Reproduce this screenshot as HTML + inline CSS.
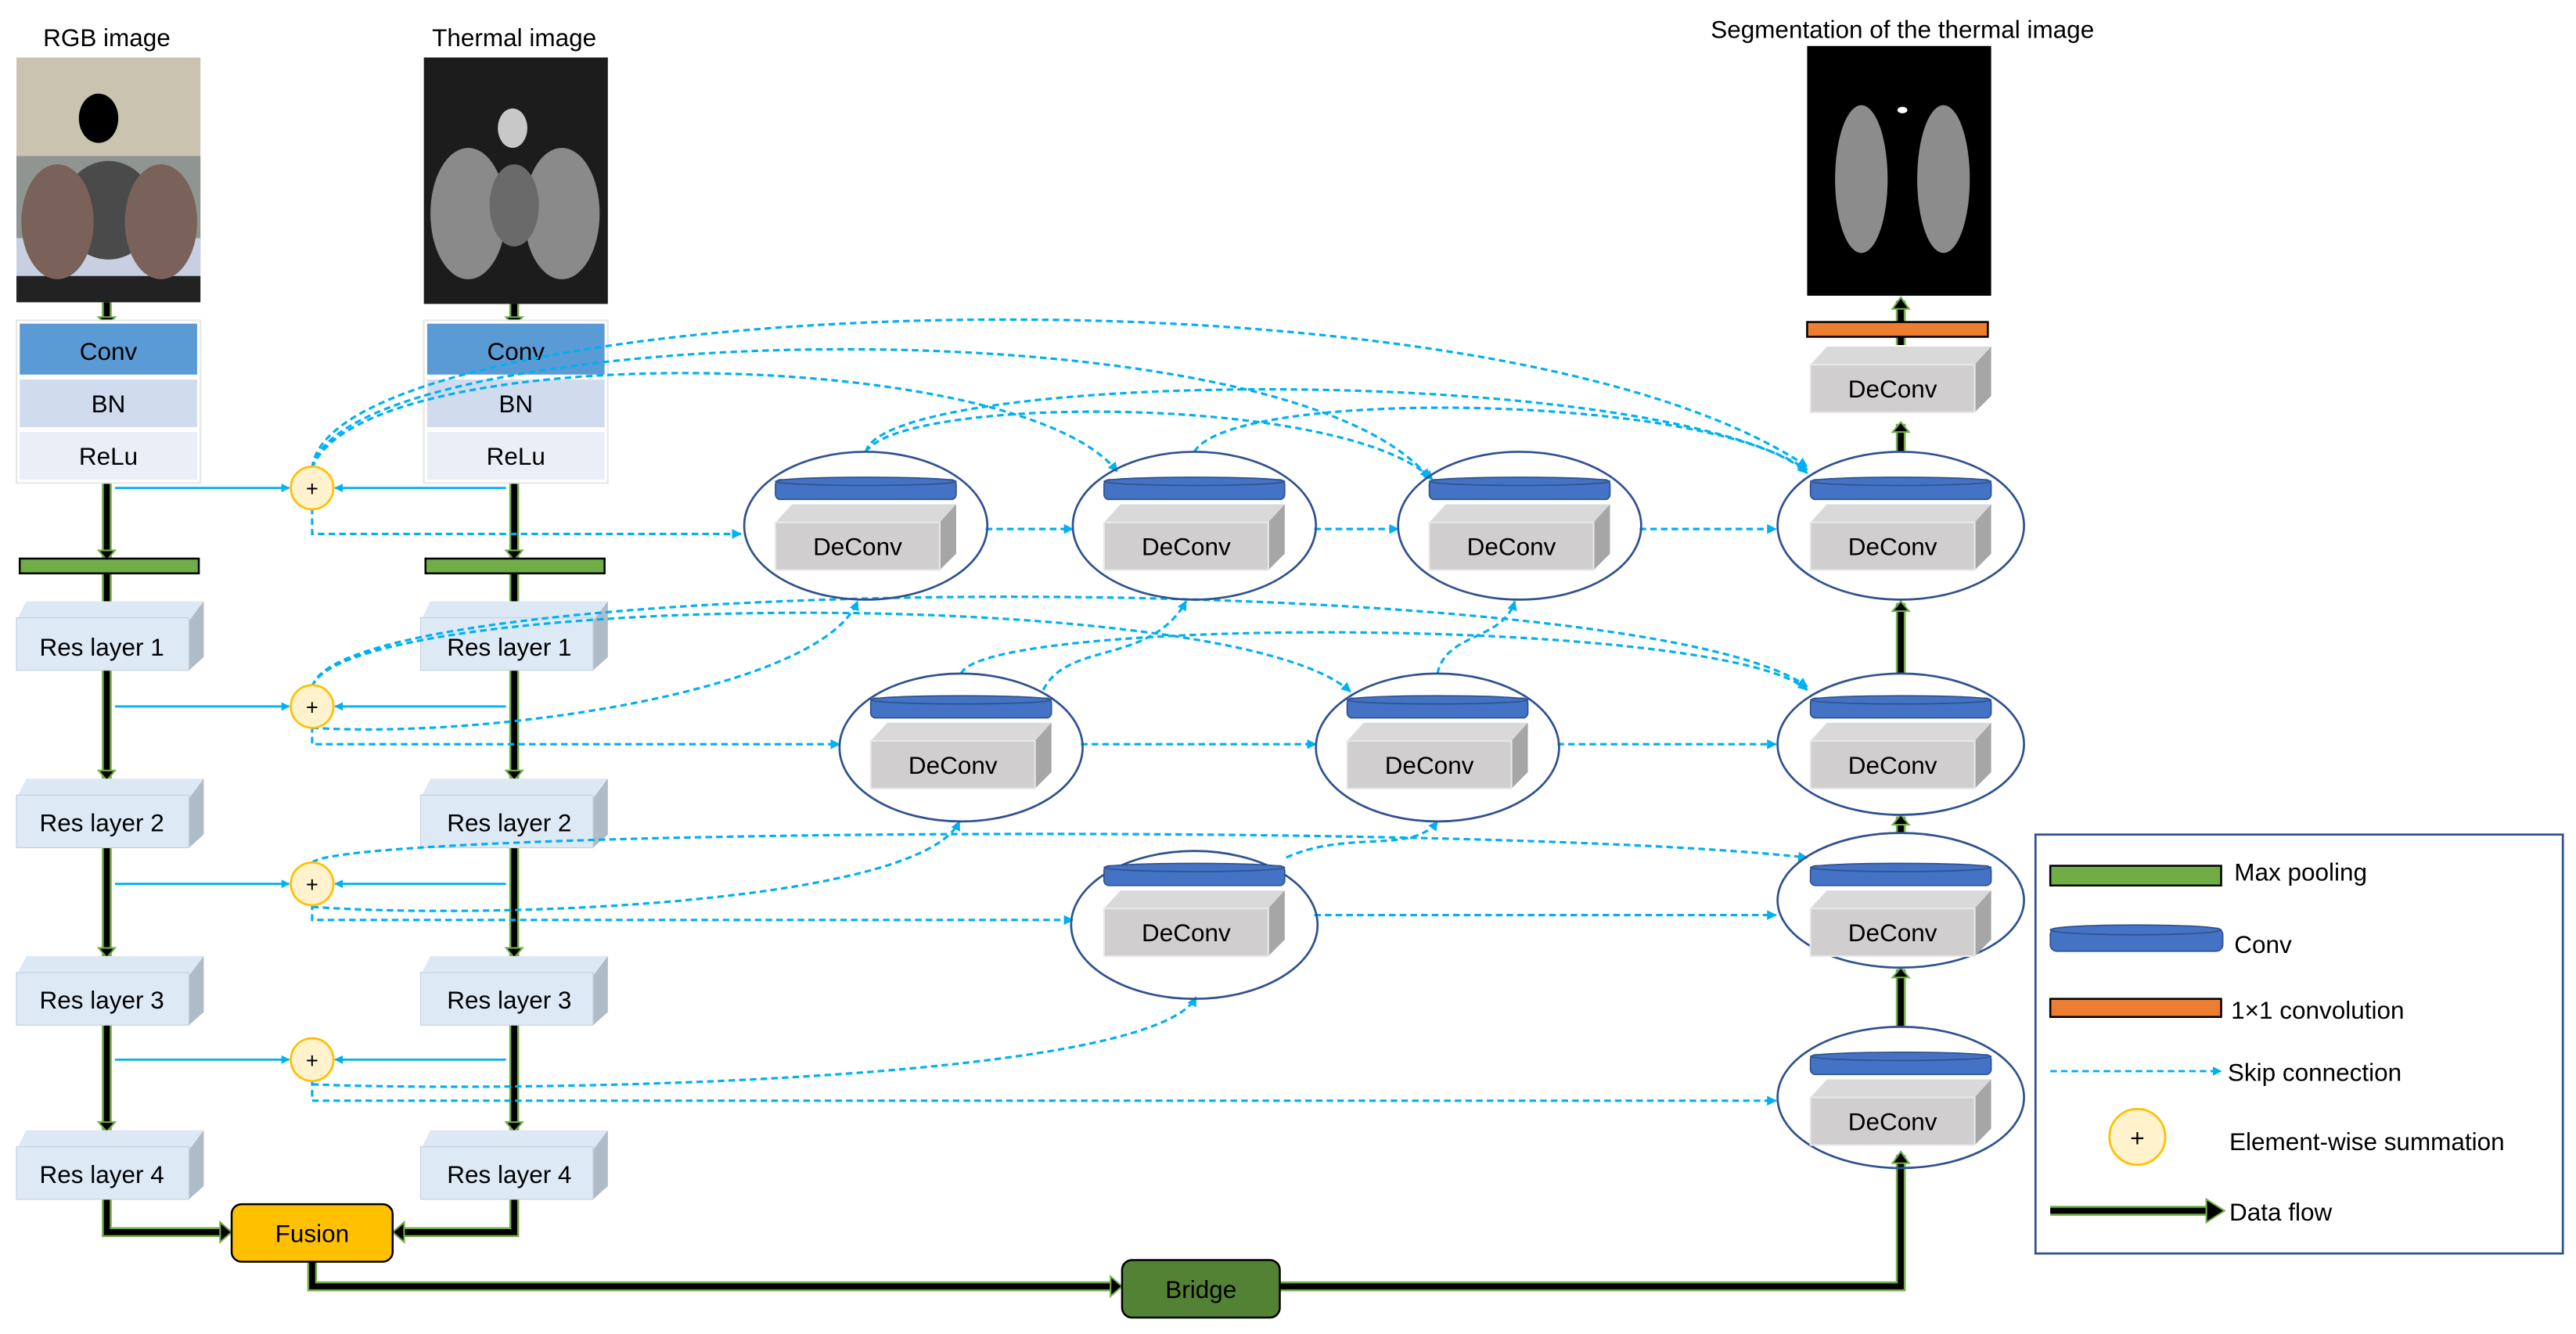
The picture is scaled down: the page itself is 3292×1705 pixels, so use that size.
<!DOCTYPE html>
<html><head><meta charset="utf-8"><style>
html,body{margin:0;padding:0;background:#fff;}
svg{display:block;}
text{font-family:"Liberation Sans",sans-serif;fill:#000;}
</style></head><body>
<svg width="3292" height="1705" viewBox="0 0 1568 812" preserveAspectRatio="none" xmlns="http://www.w3.org/2000/svg">
<defs>
<marker id="ba" viewBox="0 0 10 10" refX="9" refY="5" markerWidth="4" markerHeight="4" orient="auto"><path d="M0,0 L10,5 L0,10 z" fill="#00b0f0"/></marker>
<g id="dec">
<path d="M-55,-2 L-45,-13 L55,-13 L55,17 L45,27 L45,-2 z" fill="#d9d9d9"/>
<path d="M45,-2 L55,-13 L55,17 L45,27 z" fill="#a6a6a6"/>
<rect x="-55" y="-2" width="100" height="29" fill="#d0cece" stroke="#e8e8e8" stroke-width="1"/>
<text x="-5" y="18" font-size="15" text-anchor="middle">DeConv</text>
</g>
<g id="disc">
<rect x="-55" y="-6" width="110" height="12" rx="3" fill="#4472c4" stroke="#2f528f" stroke-width="0.8"/>
<ellipse cx="0" cy="-5" rx="55" ry="2.5" fill="#4472c4" stroke="#2f528f" stroke-width="0.8"/>
</g>
<g id="res">
<path d="M0,12 L6,0 L114,0 L114,34 L105,42 L105,12 z" fill="#dde8f5"/>
<path d="M105,12 L114,0 L114,34 L105,42 z" fill="#b0bbc8"/>
<rect x="0" y="10" width="105" height="32" fill="#dee9f6" stroke="#c8d2de" stroke-width="0.6"/>
</g>
</defs>

<text x="65" y="28" font-size="15" text-anchor="middle">RGB image</text>
<text x="313" y="28" font-size="15" text-anchor="middle">Thermal image</text>
<text x="1158" y="23" font-size="15" text-anchor="middle">Segmentation of the thermal image</text>

<rect x="10" y="35" width="112" height="149" fill="#c9c3b0"/>
<rect x="10" y="95" width="112" height="60" fill="#8f9590"/>
<rect x="10" y="145" width="112" height="25" fill="#c7cfe0"/>
<rect x="10" y="168" width="112" height="16" fill="#222"/>
<ellipse cx="66" cy="128" rx="28" ry="30" fill="#4a4a4a"/>
<ellipse cx="35" cy="135" rx="22" ry="35" fill="#7a615a"/>
<ellipse cx="98" cy="135" rx="22" ry="35" fill="#7a615a"/>
<ellipse cx="60" cy="72" rx="12" ry="15" fill="#000"/>
<rect x="258" y="35" width="112" height="150" fill="#1c1c1c"/>
<ellipse cx="285" cy="130" rx="23" ry="40" fill="#8a8a8a"/>
<ellipse cx="342" cy="130" rx="23" ry="40" fill="#8a8a8a"/>
<ellipse cx="313" cy="125" rx="15" ry="25" fill="#6a6a6a"/>
<ellipse cx="312" cy="78" rx="9" ry="12" fill="#c8c8c8"/>
<rect x="1100" y="28" width="112" height="152" fill="#000"/>
<ellipse cx="1133" cy="109" rx="16" ry="45" fill="#8c8c8c"/>
<ellipse cx="1183" cy="109" rx="16" ry="45" fill="#8c8c8c"/>
<ellipse cx="1158" cy="67" rx="3" ry="2" fill="#fff"/>

<g fill="none" stroke-linejoin="miter">
<g stroke="#70ad47" stroke-width="6">
<path d="M65,184 V197 M313,185 V197 M65,292 V340 M313,292 V340 M65,349 V380 M313,349 V380 M65,407 V474 M313,407 V474 M65,516 V582 M313,516 V582 M65,624 V688 M313,624 V688"/>
<path d="M65,730 V750 H138 M313,730 V750 H242 M190,768 V783 H680 M779,783 H1157 V703 M1157,625 V590 M1157,507 V497 M1157,410 V367 M1157,275 V258 M1157,210 V183"/>
</g>
<g stroke="#000" stroke-width="3.6">
<path d="M65,184 V194 M313,185 V194 M65,292 V336 M313,292 V336 M65,349 V380 M313,349 V380 M65,407 V470 M313,407 V470 M65,516 V578 M313,516 V578 M65,624 V684 M313,624 V684"/>
<path d="M65,730 V750 H135 M313,730 V750 H245 M190,768 V783 H677 M779,783 H1157 V706 M1157,625 V593 M1157,507 V500 M1157,410 V370 M1157,275 V261 M1157,210 V186"/>
</g>
</g>
<g fill="#000" stroke="#70ad47" stroke-width="1">
<path d="M60,193 L70,193 L65,199 z M308,193 L318,193 L313,199 z M60,335 L70,335 L65,341 z M308,335 L318,335 L313,341 z M60,469 L70,469 L65,475 z M308,469 L318,469 L313,475 z M60,577 L70,577 L65,583 z M308,577 L318,577 L313,583 z M60,683 L70,683 L65,689 z M308,683 L318,683 L313,689 z"/>
<path d="M134,744 L141,750 L134,756 z M246,744 L239,750 L246,756 z M676,777 L683,783 L676,789 z"/>
<path d="M1152,708 L1157,701 L1162,708 z M1152,595 L1157,589 L1162,595 z M1152,502 L1157,496 L1162,502 z M1152,372 L1157,366 L1162,372 z M1152,263 L1157,257 L1162,263 z M1152,188 L1157,181 L1162,188 z"/>
</g>

<rect x="10" y="195" width="112" height="99" fill="#fff" stroke="#e6e6e6"/>
<rect x="12" y="197" width="108" height="31" fill="#5b9bd5"/>
<rect x="12" y="231" width="108" height="29" fill="#d0dcee"/>
<rect x="12" y="263" width="108" height="29" fill="#e9eef7"/>
<text x="66" y="219" font-size="15" text-anchor="middle">Conv</text>
<text x="66" y="251" font-size="15" text-anchor="middle">BN</text>
<text x="66" y="283" font-size="15" text-anchor="middle">ReLu</text>
<rect x="258" y="195" width="112" height="99" fill="#fff" stroke="#e6e6e6"/>
<rect x="260" y="197" width="108" height="31" fill="#5b9bd5"/>
<rect x="260" y="231" width="108" height="29" fill="#d0dcee"/>
<rect x="260" y="263" width="108" height="29" fill="#e9eef7"/>
<text x="314" y="219" font-size="15" text-anchor="middle">Conv</text>
<text x="314" y="251" font-size="15" text-anchor="middle">BN</text>
<text x="314" y="283" font-size="15" text-anchor="middle">ReLu</text>

<rect x="12" y="340" width="109" height="9" fill="#70ad47" stroke="#000" stroke-width="1.2"/>
<rect x="259" y="340" width="109" height="9" fill="#70ad47" stroke="#000" stroke-width="1.2"/>

<use href="#res" x="10" y="366"/><use href="#res" x="256" y="366"/>
<use href="#res" x="10" y="474"/><use href="#res" x="256" y="474"/>
<use href="#res" x="10" y="582"/><use href="#res" x="256" y="582"/>
<use href="#res" x="10" y="688"/><use href="#res" x="256" y="688"/>
<g font-size="15" text-anchor="middle">
<text x="62" y="399">Res layer 1</text><text x="310" y="399">Res layer 1</text>
<text x="62" y="506">Res layer 2</text><text x="310" y="506">Res layer 2</text>
<text x="62" y="614">Res layer 3</text><text x="310" y="614">Res layer 3</text>
<text x="62" y="720">Res layer 4</text><text x="310" y="720">Res layer 4</text>
</g>

<rect x="141" y="733" width="98" height="35" rx="6" fill="#ffc000" stroke="#000" stroke-width="1.2"/>
<text x="190" y="756" font-size="15" text-anchor="middle">Fusion</text>
<rect x="683" y="767" width="96" height="35" rx="6" fill="#548235" stroke="#000" stroke-width="1.2"/>
<text x="731" y="790" font-size="15" text-anchor="middle">Bridge</text>

<g stroke="#00b0f0" stroke-width="1.3" fill="none" marker-end="url(#ba)">
<path d="M70,297 H176"/><path d="M308,297 H204"/>
<path d="M70,430 H176"/><path d="M308,430 H204"/>
<path d="M70,538 H176"/><path d="M308,538 H204"/>
<path d="M70,645 H176"/><path d="M308,645 H204"/>
</g>

<g stroke="#00b0f0" stroke-width="1.5" fill="none" stroke-dasharray="4,2.5" marker-end="url(#ba)">
<path d="M190,309 V325 H451"/>
<path d="M600,322 H653"/>
<path d="M800,322 H851"/>
<path d="M998,322 H1081"/>
<path d="M190,442 V453 H511"/>
<path d="M658,453 H801"/>
<path d="M948,453 H1081"/>
<path d="M190,550 V560 H653"/>
<path d="M800,557 H1081"/>
<path d="M190,657 V670 H1081"/>
<path d="M190,285 C200,180 900,150 1100,284"/>
<path d="M190,285 C210,195 780,180 870,291"/>
<path d="M190,285 C220,205 620,210 680,287"/>
<path d="M527,275 C540,225 1000,220 1100,286"/>
<path d="M527,275 C550,240 820,240 872,292"/>
<path d="M727,275 C750,235 1050,240 1100,288"/>
<path d="M190,418 C210,345 1000,345 1100,418"/>
<path d="M190,418 C210,360 750,355 822,421"/>
<path d="M190,443 C300,450 500,420 522,366"/>
<path d="M585,410 C600,375 1050,375 1100,420"/>
<path d="M635,420 C650,390 700,405 722,366"/>
<path d="M875,410 C880,385 915,390 922,366"/>
<path d="M190,525 C210,505 900,500 1100,522"/>
<path d="M190,552 C300,560 560,550 584,500"/>
<path d="M783,522 C820,505 860,520 875,500"/>
<path d="M190,660 C300,665 700,660 728,607"/>
</g>

<g fill="none" stroke="#2f528f" stroke-width="1.3">
<ellipse cx="527" cy="320" rx="74" ry="45"/>
<ellipse cx="727" cy="320" rx="74" ry="45"/>
<ellipse cx="925" cy="320" rx="74" ry="45"/>
<ellipse cx="1157" cy="320" rx="75" ry="45"/>
<ellipse cx="585" cy="455" rx="74" ry="45"/>
<ellipse cx="875" cy="455" rx="74" ry="45"/>
<ellipse cx="1157" cy="453" rx="75" ry="43"/>
<ellipse cx="727" cy="563" rx="75" ry="45"/>
<ellipse cx="1157" cy="548" rx="75" ry="41"/>
<ellipse cx="1157" cy="668" rx="75" ry="43"/>
</g>
<g>
<use href="#disc" x="527" y="298"/><use href="#dec" x="527" y="320"/>
<use href="#disc" x="727" y="298"/><use href="#dec" x="727" y="320"/>
<use href="#disc" x="925" y="298"/><use href="#dec" x="925" y="320"/>
<use href="#disc" x="1157" y="298"/><use href="#dec" x="1157" y="320"/>
<use href="#disc" x="585" y="431"/><use href="#dec" x="585" y="453"/>
<use href="#disc" x="875" y="431"/><use href="#dec" x="875" y="453"/>
<use href="#disc" x="1157" y="431"/><use href="#dec" x="1157" y="453"/>
<use href="#disc" x="727" y="533"/><use href="#dec" x="727" y="555"/>
<use href="#disc" x="1157" y="533"/><use href="#dec" x="1157" y="555"/>
<use href="#disc" x="1157" y="648"/><use href="#dec" x="1157" y="670"/>
<use href="#dec" x="1157" y="224"/>
</g>
<rect x="1100" y="196" width="110" height="9" fill="#ed7d31" stroke="#000" stroke-width="1.2"/>

<g>
<circle cx="190" cy="297" r="13" fill="#fff2cc" stroke="#ffc000" stroke-width="1.3"/>
<circle cx="190" cy="430" r="13" fill="#fff2cc" stroke="#ffc000" stroke-width="1.3"/>
<circle cx="190" cy="538" r="13" fill="#fff2cc" stroke="#ffc000" stroke-width="1.3"/>
<circle cx="190" cy="645" r="13" fill="#fff2cc" stroke="#ffc000" stroke-width="1.3"/>
</g>
<g font-size="13" text-anchor="middle">
<text x="190" y="302">+</text><text x="190" y="435">+</text><text x="190" y="543">+</text><text x="190" y="650">+</text>
</g>

<rect x="1239" y="508" width="321" height="255" fill="#fff" stroke="#2f528f" stroke-width="1.3"/>
<rect x="1248" y="527" width="104" height="12" fill="#70ad47" stroke="#000" stroke-width="1.2"/>
<text x="1360" y="536" font-size="15">Max pooling</text>
<rect x="1248" y="565" width="105" height="14" rx="4" fill="#4472c4" stroke="#2f528f" stroke-width="0.8"/>
<ellipse cx="1300" cy="566" rx="52" ry="3" fill="#4472c4" stroke="#2f528f" stroke-width="0.8"/>
<text x="1360" y="580" font-size="15">Conv</text>
<rect x="1248" y="608" width="104" height="11" fill="#ed7d31" stroke="#000" stroke-width="1.2"/>
<text x="1358" y="620" font-size="15">1×1 convolution</text>
<path d="M1248,652 H1352" stroke="#00b0f0" stroke-width="1.4" stroke-dasharray="4,2.5" marker-end="url(#ba)" fill="none"/>
<text x="1356" y="658" font-size="15">Skip connection</text>
<circle cx="1301" cy="692" r="17" fill="#fff2cc" stroke="#ffc000" stroke-width="1.3"/>
<text x="1301" y="698" font-size="15" text-anchor="middle">+</text>
<text x="1357" y="700" font-size="15">Element-wise summation</text>
<path d="M1248,737 H1345" stroke="#70ad47" stroke-width="6" fill="none"/>
<path d="M1248,737 H1345" stroke="#000" stroke-width="3.6" fill="none"/>
<path d="M1343,730 L1354,737 L1343,744 z" fill="#000" stroke="#70ad47" stroke-width="1"/>
<text x="1357" y="743" font-size="15">Data flow</text>
</svg>
</body></html>
